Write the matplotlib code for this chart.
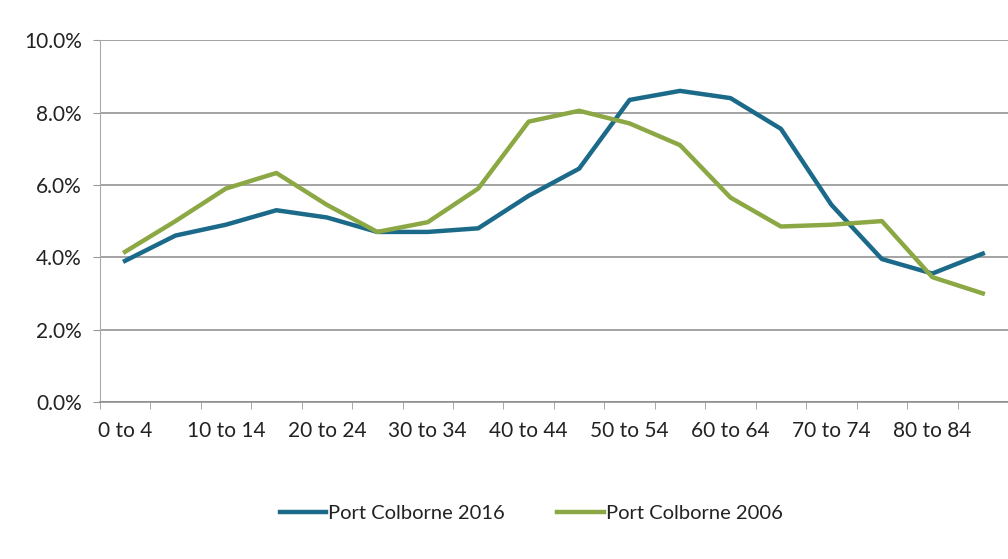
"""
Port Colborne age distribution, 2016 vs 2006 (share of population by 5-year age group).
"""

import numpy as np
import matplotlib
matplotlib.use("Agg")
import matplotlib.pyplot as plt
from matplotlib.ticker import FuncFormatter

AGE_GROUPS = ["0 to 4", "5 to 9", "10 to 14", "15 to 19", "20 to 24", "25 to 29",
              "30 to 34", "35 to 39", "40 to 44", "45 to 49", "50 to 54", "55 to 59",
              "60 to 64", "65 to 69", "70 to 74", "75 to 79", "80 to 84", "85+"]
PC_2016 = [3.9, 4.6, 4.9, 5.3, 5.1, 4.7, 4.7, 4.8, 5.7, 6.45, 8.35, 8.6,
           8.4, 7.55, 5.45, 3.95, 3.55, 4.1]
PC_2006 = [4.15, 5.0, 5.9, 6.33, 5.45, 4.7, 4.97, 5.9, 7.75, 8.05, 7.7, 7.1,
           5.65, 4.85, 4.9, 5.0, 3.45, 3.0]

COLORS = {"2016": "#1C6A89", "2006": "#8CA845"}
FONT = "Lato"


def main():
    plt.rcParams["font.family"] = [FONT, "DejaVu Sans"]
    fig = plt.figure(figsize=(10.08, 5.59), dpi=100)
    ax = fig.add_axes([0.099, 0.281, 0.901, 0.647])

    x = np.arange(len(AGE_GROUPS))
    ax.plot(x, PC_2016, color=COLORS["2016"], lw=3.2, label="Port Colborne 2016",
            solid_joinstyle="round", zorder=3)
    ax.plot(x, PC_2006, color=COLORS["2006"], lw=3.2, label="Port Colborne 2006",
            solid_joinstyle="round", zorder=3)

    ax.set_xlim(-0.5, len(AGE_GROUPS) - 0.5)
    ax.set_ylim(0, 10)
    ax.set_yticks(np.arange(0, 10.1, 2))
    ax.yaxis.set_major_formatter(FuncFormatter(lambda v, _: f"{v:.1f}%"))
    ax.grid(axis="y", color="#8a8a8a", lw=1.1)
    ax.set_axisbelow(True)

    ax.set_xticks(x[::2])
    ax.set_xticklabels(AGE_GROUPS[::2])
    ax.set_xticks(np.arange(-0.5, len(AGE_GROUPS), 1), minor=True)
    ax.tick_params(axis="x", which="major", length=0, pad=14, labelsize=15,
                   labelcolor="#222222")
    ax.tick_params(axis="x", which="minor", length=5, color="#999999")
    ax.tick_params(axis="y", length=5, color="#999999", labelsize=15, pad=8,
                   labelcolor="#222222")

    for s in ["top", "right"]:
        ax.spines[s].set_visible(False)
    ax.spines["left"].set_color("#aaaaaa")
    ax.spines["bottom"].set_color("#8a8a8a")
    ax.spines["bottom"].set_linewidth(1.1)

    fig.legend(loc="center", bbox_to_anchor=(0.527, 0.082), ncol=2, frameon=False,
               fontsize=14.5, handlelength=2.3, handletextpad=0.1, columnspacing=2.6,
               labelcolor="#222222")

    fig.savefig("out.png", dpi=100)
    plt.close(fig)


if __name__ == "__main__":
    main()
